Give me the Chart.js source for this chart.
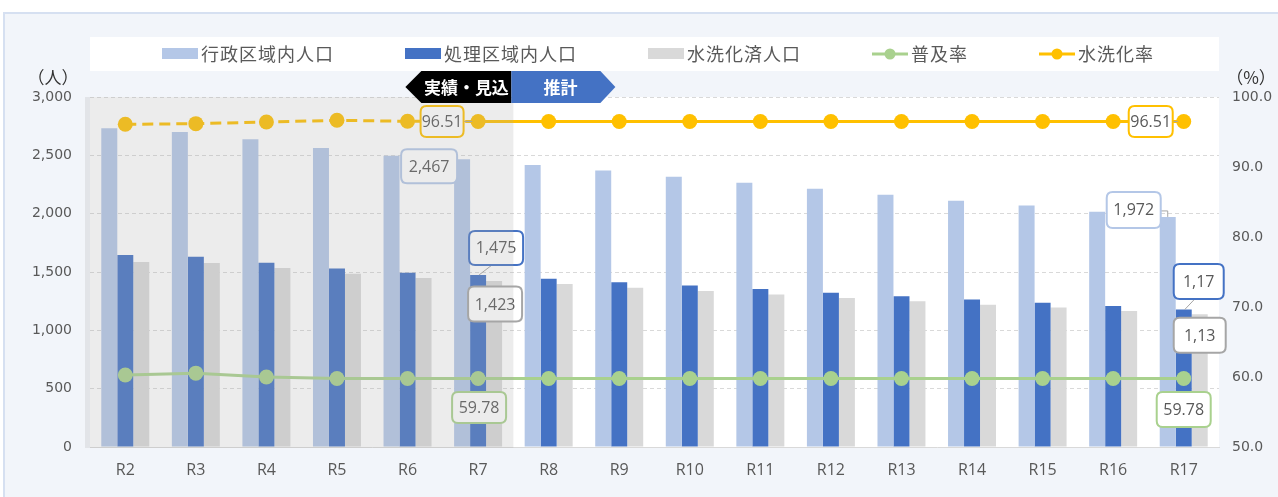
<!DOCTYPE html>
<html><head><meta charset="utf-8">
<script src="https://cdn.jsdelivr.net/npm/chart.js@4/dist/chart.umd.min.js"></script>
<style>html,body{margin:0;padding:0;background:#fff;}#wrap{position:relative;width:1278px;height:497px;}canvas{display:block;}</style>
</head><body><div id="wrap"><canvas id="c" width="1278" height="497"></canvas></div>
<script>
// ---- data ----
const categories = ['R2','R3','R4','R5','R6','R7','R8','R9','R10','R11','R12','R13','R14','R15','R16','R17'];
const adminPop   = [2732,2700,2637,2563,2497,2467,2417,2369,2317,2266,2214,2163,2111,2069,2017,1972];
const servicePop = [1646,1631,1580,1529,1494,1475,1442,1413,1385,1355,1322,1293,1265,1237,1208,1178];
const flushedPop = [1586,1577,1534,1486,1449,1423,1397,1366,1338,1308,1278,1249,1220,1195,1166,1138];
const coverageRate = [60.29,60.55,60.0,59.78,59.78,59.78,59.78,59.78,59.78,59.78,59.78,59.78,59.78,59.78,59.78,59.78];
const flushRate    = [96.10,96.19,96.43,96.67,96.53,96.51,96.51,96.51,96.51,96.51,96.51,96.51,96.51,96.51,96.51,96.51];
const seriesNames = ['行政区域内人口','処理区域内人口','水洗化済人口','普及率','水洗化率'];
const seriesColors = ['#b4c7e7','#4472c4','#d9d9d9','#a9d18e','#ffc000'];
const leftAxisRange = [0, 3000, 500];
const rightAxisRange = [50, 100, 10];
const axisTitles = ['（人）','（%）'];
const phaseLabels = ['実績・見込','推計'];
const lastActualCategory = 'R7';
// callout texts (as shown in the picture)
const callouts = [
  {s:4, i:5,  text:'96.51', dx:-36, dy:0,  w:43, h:31, leader:'right'},
  {s:0, i:5,  text:'2,467', dx:-33, dy:7,  w:56, h:34},
  {s:1, i:5,  text:'1,475', dx:18,  dy:-27, w:54, h:34, leader:'bottom'},
  {s:2, i:5,  text:'1,423', dx:1,   dy:23, w:54, h:35, border:'#a6a6a6'},
  {s:3, i:5,  text:'59.78', dx:1,   dy:29, w:54, h:31},
  {s:4, i:15, text:'96.51', dx:-33, dy:0,  w:44, h:31, leader:'right'},
  {s:0, i:15, text:'1,972', dx:-34, dy:-7, w:54, h:36, leader:'elbow'},
  {s:1, i:15, text:'1,17',  dx:15,  dy:-28, w:50, h:35, leader:'bottom'},
  {s:2, i:15, text:'1,13',  dx:0,   dy:21, w:52, h:35, border:'#a6a6a6'},
  {s:3, i:15, text:'59.78', dx:0,   dy:31, w:54, h:35}
];

const CJK = "'Noto Sans CJK JP', sans-serif";
const TXT = '#595959';

function rr(ctx,x,y,w,h,r){
  ctx.beginPath();
  ctx.moveTo(x+r,y);ctx.lineTo(x+w-r,y);ctx.quadraticCurveTo(x+w,y,x+w,y+r);
  ctx.lineTo(x+w,y+h-r);ctx.quadraticCurveTo(x+w,y+h,x+w-r,y+h);
  ctx.lineTo(x+r,y+h);ctx.quadraticCurveTo(x,y+h,x,y+h-r);
  ctx.lineTo(x,y+r);ctx.quadraticCurveTo(x,y,x+r,y);ctx.closePath();
}

const decor = {
  id:'decor',
  beforeDraw(chart){
    const {ctx, chartArea:a} = chart;
    ctx.save();
    ctx.fillStyle='#ffffff';ctx.fillRect(0,0,chart.width,chart.height);
    ctx.fillStyle='#f2f5fa';ctx.fillRect(4,13,chart.width,chart.height);
    ctx.strokeStyle='#d6e0f1';ctx.lineWidth=2;ctx.strokeRect(4,13,chart.width+10,chart.height+10);
    ctx.fillStyle='#ffffff';
    ctx.fillRect(a.left,37,a.right-a.left,34);
    ctx.fillRect(a.left,a.top,a.right-a.left,a.bottom-a.top);
    ctx.restore();
  },
  afterDatasetsDraw(chart){
    const ctx = chart.ctx;
    ctx.save();
    // callouts
    callouts.forEach(c=>{
      const el = chart.getDatasetMeta(c.s).data[c.i];
      const cx = el.x + c.dx, cy = el.y + c.dy;
      const x0 = cx - c.w/2, y0 = cy - c.h/2;
      ctx.strokeStyle='#a6a6a6';ctx.lineWidth=1;ctx.setLineDash([]);
      ctx.beginPath();
      if(c.leader==='right'){ctx.moveTo(x0+c.w,cy);ctx.lineTo(el.x-6,el.y);}
      if(c.leader==='bottom'){ctx.moveTo(cx-4,y0+c.h);ctx.lineTo(el.x+1,el.y);}
      if(c.leader==='elbow'){ctx.moveTo(x0+c.w,cy+1);ctx.lineTo(el.x,cy+1);ctx.lineTo(el.x,el.y);}
      ctx.stroke();
      rr(ctx,x0,y0,c.w,c.h,6);
      ctx.fillStyle='#ffffff';ctx.fill();
      ctx.lineWidth=2;ctx.strokeStyle=c.border||seriesColors[c.s];ctx.stroke();
      ctx.fillStyle=TXT;ctx.font="16px 'Open Sans'";ctx.textAlign='center';ctx.textBaseline='middle';
      ctx.fillText(c.text,cx,cy+1);
    });
    // shaded "actual" period overlay
    const xs = chart.scales.x, a = chart.chartArea;
    const li = categories.indexOf(lastActualCategory);
    const half = (xs.getPixelForValue(1)-xs.getPixelForValue(0))/2;
    const left = xs.getPixelForValue(0)-half-5;
    const right = (xs.getPixelForValue(li)+xs.getPixelForValue(li+1))/2;
    ctx.fillStyle='rgba(169,169,169,0.22)';
    ctx.fillRect(left,a.top,right-left,a.bottom-a.top+1);
    ctx.restore();
  },
  afterDraw(chart){
    const ctx = chart.ctx, xs = chart.scales.x;
    ctx.save();
    // legend
    ctx.font = "18px "+CJK; ctx.textBaseline='middle'; ctx.textAlign='left';
    try{ctx.letterSpacing='1px';}catch(e){}
    let x = 162; const ly = 54;
    chart.data.datasets.forEach((d,k)=>{
      const col = seriesColors[k];
      if(d.type==='bar'){
        ctx.fillStyle=col;ctx.fillRect(x,48,36,11);
      } else {
        ctx.strokeStyle=col;ctx.lineWidth=3;ctx.beginPath();ctx.moveTo(x,ly);ctx.lineTo(x+36,ly);ctx.stroke();
        ctx.fillStyle=col;ctx.beginPath();ctx.arc(x+18,ly,5.5,0,Math.PI*2);ctx.fill();
      }
      ctx.fillStyle=TXT;
      ctx.fillText(d.label,x+39,ly);
      x += 39 + ctx.measureText(d.label).width + 71;
    });
    try{ctx.letterSpacing='0px';}catch(e){}
    // phase banner
    const li = categories.indexOf(lastActualCategory);
    const b = (xs.getPixelForValue(li)+xs.getPixelForValue(li+1))/2 - 2;
    const t=71, bt=103, m=87;
    ctx.fillStyle='#000000';
    ctx.beginPath();ctx.moveTo(b-106,m);ctx.lineTo(b-90,t);ctx.lineTo(b,t);ctx.lineTo(b,bt);ctx.lineTo(b-90,bt);ctx.closePath();ctx.fill();
    ctx.fillStyle='#4472c4';
    ctx.beginPath();ctx.moveTo(b,t);ctx.lineTo(b+89,t);ctx.lineTo(b+104,m);ctx.lineTo(b+89,bt);ctx.lineTo(b,bt);ctx.closePath();ctx.fill();
    ctx.fillStyle='#ffffff';ctx.font="bold 17px "+CJK;ctx.textAlign='center';ctx.textBaseline='middle';
    ctx.fillText(phaseLabels[0],b-45,m+1);
    ctx.fillText(phaseLabels[1],b+49,m+1);
    // axis titles
    ctx.fillStyle='#333333';ctx.font="17px "+CJK;
    ctx.fillText(axisTitles[0],53,78);
    ctx.fillText(axisTitles[1],1251,78);
    ctx.restore();
  }
};

const barDs = (k,data)=>({type:'bar',label:seriesNames[k],data,backgroundColor:seriesColors[k],borderWidth:0,yAxisID:'y',order:2,
  categoryPercentage:0.68,barPercentage:1.0});
const lineDs = (k,data,extra)=>Object.assign({type:'line',label:seriesNames[k],data,borderColor:seriesColors[k],backgroundColor:seriesColors[k],
  borderWidth:3,pointRadius:7.5,pointHoverRadius:7.5,pointBorderWidth:0,pointBackgroundColor:seriesColors[k],fill:false,tension:0,yAxisID:'y1',order:1},extra||{});

const li0 = categories.indexOf(lastActualCategory);
new Chart(document.getElementById('c'),{
  data:{labels:categories,datasets:[
    barDs(0,adminPop), barDs(1,servicePop), barDs(2,flushedPop),
    lineDs(3,coverageRate),
    lineDs(4,flushRate,{segment:{borderDash:ctx=>ctx.p1DataIndex<=li0?[11,6]:undefined}})
  ]},
  options:{
    responsive:false,animation:false,devicePixelRatio:1,
    layout:{padding:{top:97,left:0,right:0,bottom:0}},
    plugins:{legend:{display:false},tooltip:{enabled:false}},
    scales:{
      x:{grid:{display:false,drawTicks:false},border:{display:true,color:'#d9d9d9',width:1},
         ticks:{color:TXT,font:{family:'Open Sans',size:16},padding:14,maxRotation:0,autoSkip:false},
         afterFit:s=>{s.height=50;}},
      y:{position:'left',min:leftAxisRange[0],max:leftAxisRange[1],
         ticks:{stepSize:leftAxisRange[2],color:TXT,font:{family:'DejaVu Sans',size:14},padding:18,callback:v=>v.toLocaleString('en-US')},
         grid:{drawTicks:false,color:c=>c.tick&&c.tick.value===0?'rgba(0,0,0,0)':'#d9d9d9',lineWidth:1},
         border:{display:false,dash:[4,3]},
         afterFit:s=>{s.width=90;}},
      y1:{position:'right',min:rightAxisRange[0],max:rightAxisRange[1],
         ticks:{stepSize:rightAxisRange[2],color:TXT,font:{family:'DejaVu Sans',size:14},padding:13,callback:v=>Number(v).toFixed(1)},
         grid:{display:false,drawTicks:false},border:{display:false},
         afterFit:s=>{s.width=59;}}
    }
  },
  plugins:[decor]
});
</script></body></html>
